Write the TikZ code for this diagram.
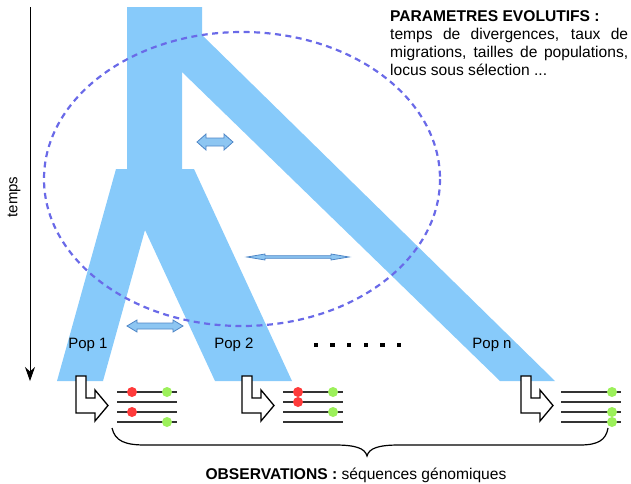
\documentclass[tikz,border=0pt]{standalone}
\usepackage{fontspec}
\setmainfont{Liberation Sans}
\usetikzlibrary{arrows.meta}
\definecolor{branch}{HTML}{87CAFA}
\definecolor{ellcol}{HTML}{6A6AE8}
\definecolor{arrfill}{HTML}{8DC6F2}
\definecolor{arrline}{HTML}{4F86C6}
\definecolor{seqred}{HTML}{FF3B3B}
\definecolor{seqgreen}{HTML}{9CF05A}
\definecolor{seqline}{HTML}{333333}
\newcommand\dblblock[6]{%
  \filldraw[migr] ({#1-#3},#2) -- ({#1-#3+#4},{#2-#5}) -- ({#1-#3+#4},{#2-#6}) -- ({#1+#3-#4},{#2-#6}) -- ({#1+#3-#4},{#2-#5}) -- ({#1+#3},#2) -- ({#1+#3-#4},{#2+#5}) -- ({#1+#3-#4},{#2+#6}) -- ({#1-#3+#4},{#2+#6}) -- ({#1-#3+#4},{#2+#5}) -- cycle;}
\tikzset{
  migr/.style={fill=arrfill, draw=arrline, line width=0.8pt, line join=miter},
  txt/.style={font=\fontsize{15}{18}\selectfont, inner sep=0pt},
  bigtxt/.style={font=\fontsize{15.6}{18}\selectfont, inner sep=0pt},
  bentarrow/.pic={\draw[fill=white, line width=1.3pt, line join=miter]
     (0,0) -- (10,0) -- (10,22) -- (19,22) -- (19,14) -- (32,29.5) -- (19,45) -- (19,37) -- (0,37) -- cycle;},
  seqs/.pic={\foreach \k in {0,10,20,30} {\draw[seqline, line width=1.4pt] (0,\k) -- (60,\k);}},
  reddot/.style={circle, fill=seqred, minimum size=10pt, inner sep=0pt},
  greendot/.style={circle, fill=seqgreen, minimum size=10pt, inner sep=0pt},
  sqdot/.style={fill=black, minimum size=4.5pt, inner sep=0pt}
}
\begin{document}
\begin{tikzpicture}[x=1pt, y=-1pt]
\useasboundingbox (0,0) rectangle (631,483);
% tree
\fill[branch] (127,7) -- (202,7) -- (202,35) -- (555,381) -- (500,381) -- (182,72) -- (182,169)
  -- (194,169) -- (292,381) -- (215,381) -- (145,230) -- (103,381) -- (57,381) -- (116,169) -- (127,169) -- cycle;
% ellipse
\draw[ellcol, line width=2.2pt, dash pattern=on 6pt off 4.5pt] (242,179) ellipse [x radius=198, y radius=147];
% migration arrows
\dblblock{215}{142}{18}{9}{8}{4}
\dblblock{298}{257}{51}{18}{3}{1.3}
\dblblock{155}{326}{28}{10}{6}{3}
% time axis
\coordinate (ttop) at (30,7);
\coordinate (tbot) at (30,381);
\draw[line width=0.8pt, -{Stealth[length=14pt,width=10pt]}] (ttop) -- (tbot);
\node[txt, rotate=90] (temps) at (14,197) {temps};
% header
\node[bigtxt, anchor=base west, text width=238pt, align=justify] (param) at (390,21)
 {\hyphenpenalty=10000 \textbf{PARAMETRES EVOLUTIFS :}\\ temps de divergences, taux de\linebreak migrations, tailles de populations,\linebreak locus sous sélection ...};
% pop labels
\node[txt, anchor=base] (pop1) at (88,348) {Pop 1};
\node[txt, anchor=base] (pop2) at (234,348) {Pop 2};
\node[txt, anchor=base] (popn) at (492,348) {Pop n};
\foreach \x [count=\i] in {316,332.6,349.2,365.8,382.4,399} {\node[sqdot] (d\i) at (\x,345) {};}
% observations
\pic at (76,376) {bentarrow};
\pic at (242,376) {bentarrow};
\pic at (521,376) {bentarrow};
\pic at (117,392) {seqs};
\pic at (283,392) {seqs};
\pic at (561,392) {seqs};
\node[reddot] (r1a) at (132,392) {};
\node[reddot] (r1b) at (132,412) {};
\node[greendot] (g1a) at (167,392) {};
\node[greendot] (g1b) at (167,422) {};
\node[reddot] (r2a) at (298,392) {};
\node[reddot] (r2b) at (298,402) {};
\node[greendot] (g2a) at (333,392) {};
\node[greendot] (g2b) at (333,412) {};
\node[greendot] (gna) at (612,392) {};
\node[greendot] (gnb) at (612,412) {};
\node[greendot] (gnc) at (612,422) {};
% brace
\draw[line width=1.2pt] (112,428) .. controls (115,441) and (125,445) .. (145,445) -- (335,445)
  .. controls (355,445) and (365,448) .. (367,456) .. controls (369,448) and (379,445) .. (399,445)
  -- (580,445) .. controls (598,445) and (606,440) .. (608,428);
\node[bigtxt, anchor=base] (obs) at (356,479) {\textbf{OBSERVATIONS :} séquences génomiques};
\end{tikzpicture}
\end{document}
